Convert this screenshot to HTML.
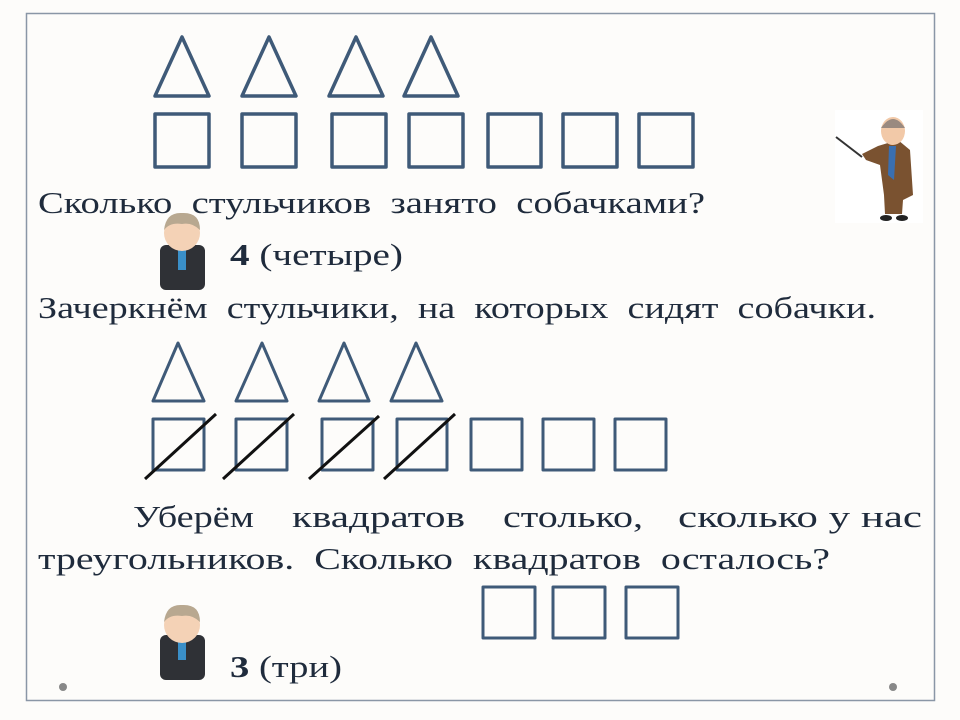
<!DOCTYPE html>
<html><head><meta charset="utf-8"><style>
html,body{margin:0;padding:0;background:#fff;}
svg{display:block;}
text{font-family:"Liberation Serif",serif;font-size:31px;fill:#1f2b3c;white-space:pre;}
</style></head><body>
<svg width="960" height="720" viewBox="0 0 960 720" xmlns="http://www.w3.org/2000/svg">
<rect x="0" y="0" width="960" height="720" fill="#fdfcfa"/>
<rect x="26.5" y="13.5" width="908" height="687" fill="none" stroke="#8a96a6" stroke-width="1.5"/>
<circle cx="63" cy="687" r="4" fill="#888"/>
<circle cx="893" cy="687" r="4" fill="#888"/>
<g fill="none" stroke="#3f5a78" stroke-width="3.5" stroke-linejoin="round">
<polygon points="155,96 182,37 209,96"/>
<polygon points="242,96 269,37 296,96"/>
<polygon points="329,96 356,37 383,96"/>
<polygon points="404,96 431,37 458,96"/>
<rect x="155" y="114" width="54" height="53"/>
<rect x="242" y="114" width="54" height="53"/>
<rect x="332" y="114" width="54" height="53"/>
<rect x="409" y="114" width="54" height="53"/>
<rect x="488" y="114" width="53" height="53"/>
<rect x="563" y="114" width="54" height="53"/>
<rect x="639" y="114" width="54" height="53"/>
</g>
<g fill="none" stroke="#3f5a78" stroke-width="3" stroke-linejoin="round">
<polygon points="153,401 178,343 204,401"/>
<polygon points="236,401 262,343 287,401"/>
<polygon points="319,401 344,343 369,401"/>
<polygon points="391,401 416,343 442,401"/>
<rect x="153" y="419" width="51" height="51"/>
<rect x="236" y="419" width="51" height="51"/>
<rect x="322" y="419" width="51" height="51"/>
<rect x="397" y="419" width="50" height="51"/>
<rect x="471" y="419" width="51" height="51"/>
<rect x="543" y="419" width="51" height="51"/>
<rect x="615" y="419" width="51" height="51"/>
<rect x="483" y="587" width="52" height="51"/>
<rect x="553" y="587" width="52" height="51"/>
<rect x="626" y="587" width="52" height="51"/>
</g>
<g stroke="#111" stroke-width="3">
<line x1="145" y1="479" x2="216" y2="414"/>
<line x1="223" y1="479" x2="294" y2="414"/>
<line x1="309" y1="479" x2="379" y2="416"/>
<line x1="384" y1="479" x2="455" y2="414"/>
</g>
<text x="38" y="213" textLength="667" lengthAdjust="spacingAndGlyphs">Сколько  стульчиков  занято  собачками?</text>
<text x="230" y="265" textLength="173" lengthAdjust="spacingAndGlyphs"><tspan font-weight="bold">4</tspan> (четыре)</text>
<text x="38" y="318" textLength="838" lengthAdjust="spacingAndGlyphs">Зачеркнём  стульчики,  на  которых  сидят  собачки.</text>
<text x="133" y="527" textLength="121" lengthAdjust="spacingAndGlyphs">Уберём</text>
<text x="292" y="527" textLength="173" lengthAdjust="spacingAndGlyphs">квадратов</text>
<text x="503" y="527" textLength="140" lengthAdjust="spacingAndGlyphs">столько,</text>
<text x="678" y="527" textLength="244" lengthAdjust="spacingAndGlyphs">сколько у нас</text>
<text x="38" y="569" textLength="792" lengthAdjust="spacingAndGlyphs">треугольников.  Сколько  квадратов  осталось?</text>
<text x="230" y="677" textLength="112" lengthAdjust="spacingAndGlyphs"><tspan font-weight="bold">3</tspan> (три)</text>
<g>
<rect x="835" y="110" width="88" height="113" fill="#fff"/>
<line x1="836" y1="137" x2="862" y2="157" stroke="#333" stroke-width="2"/>
<path d="M878,146 L898,140 L910,150 L913,195 L903,200 L902,214 L885,214 L884,195 L880,165 L866,160 L862,154 Z" fill="#7a5230"/>
<path d="M889,146 L896,146 L894,180 L888,175 Z" fill="#3a6fb0"/>
<ellipse cx="893" cy="131" rx="12" ry="14" fill="#f2c9a8"/>
<path d="M881,128 Q893,110 905,128 Z" fill="#9a8a80"/>
<ellipse cx="886" cy="218" rx="6" ry="3" fill="#222"/>
<ellipse cx="902" cy="218" rx="6" ry="3" fill="#222"/>
</g>
<g>
<rect x="160" y="245" width="45" height="45" rx="6" fill="#2f3136"/>
<rect x="178" y="248" width="8" height="22" fill="#3a8fc8"/>
<ellipse cx="182" cy="233" rx="18" ry="18" fill="#f4d2b6"/>
<path d="M164,230 Q166,212 182,213 Q200,212 200,230 Q192,222 182,224 Q170,222 164,230 Z" fill="#b8a890"/>
</g>
<g>
<rect x="160" y="635" width="45" height="45" rx="6" fill="#2f3136"/>
<rect x="178" y="638" width="8" height="22" fill="#3a8fc8"/>
<ellipse cx="182" cy="625" rx="18" ry="18" fill="#f4d2b6"/>
<path d="M164,622 Q166,604 182,605 Q200,604 200,622 Q192,614 182,616 Q170,614 164,622 Z" fill="#b8a890"/>
</g>
</svg>
</body></html>
